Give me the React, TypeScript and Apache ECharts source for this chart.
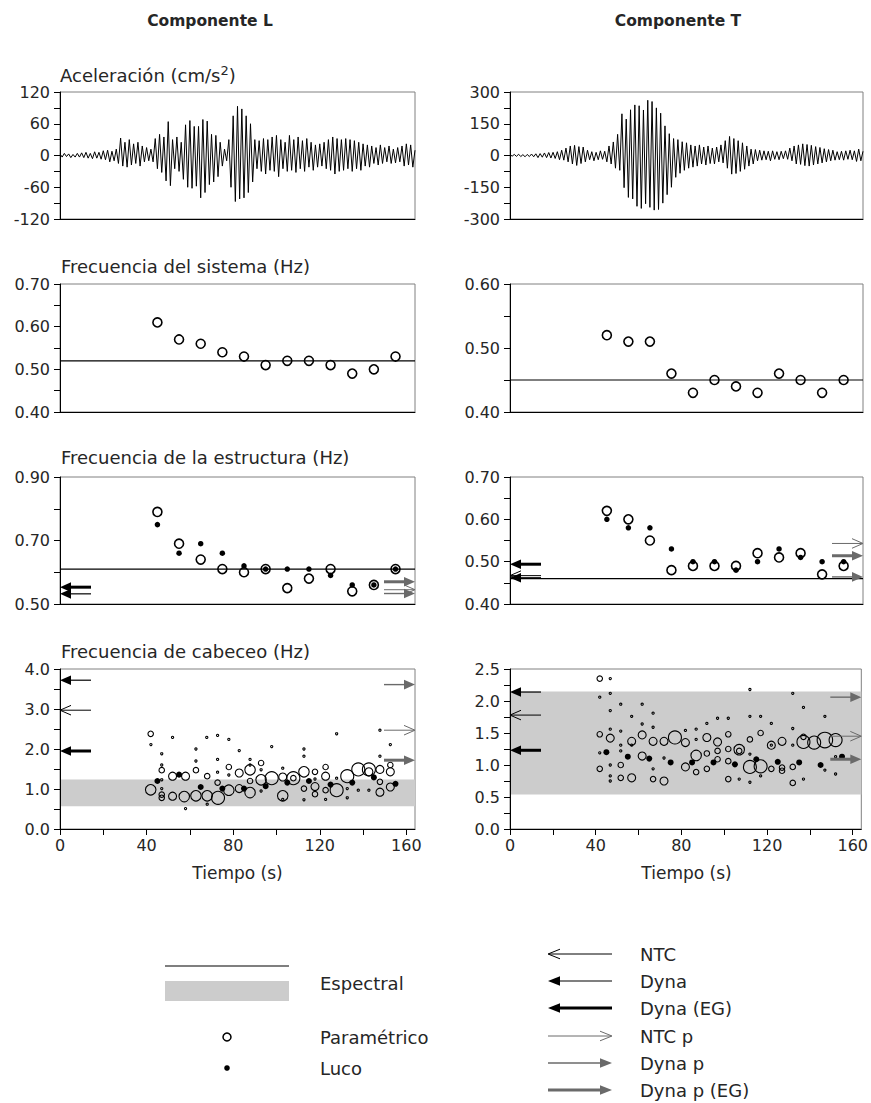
import { useEffect, useRef } from "react";
import * as echarts from "echarts";

// ---------- data ----------
const T_MAX = 164;
const ACC_DT = 1; // s between successive half-cycle extremes read from the record

const ACC_L = [
  3, -3, 4, -2, 3, -4, 2, -3, 4, -3,
  5, -4, 6, -5, 4, -6, 7, -5, 6, -7,
  9, -8, 10, -12, 8, -10, 12, -15,
  33, -20, 25, -22, 30, -18, 22, -15, 25, -20, 18, -12, 15, -10, 12,
  -12, 32, -25, 40, -32, 35, -48, 64, -57, 30, -25, 35, -30,
  25, -45, 58, -60, 66, -62, 55, -58, 55, -80, 68, -70, 65, -55, 40, -50, 38, -40, 25, -20, 12, -10,
  30, -60, 75, -87, 93, -82, 88, -80, 75, -70, 60, -50, 30, -25,
  28, -30, 32, -35, 30, -28, 35, -30, 38, -40, 30, -25,
  25, -30, 38, -28, 30, -32, 35, -25, 28, -30, 32, -22, 25, -28, 20, -22,
  22, -20, 25, -25, 30, -28, 35, -35, 32, -30, 30, -28, 32, -25,
  30, -30, 28, -25, 25, -28, 22, -20, 20, -22, 18, -15, 15, -18, 20, -15,
  15, -12, 18, -15, 12, -14, 15, -12, 18, -20, 22, -18, 20, -22, 10,
];

const ACC_T = [
  4, -3, 5, -4, 6, -5, 4, -6, 5, -5,
  7, -6, 8, -10, 9, -8, 12, -10, 14, -12,
  15, -14, 18, -20, 25,
  -22, 35, -30, 45, -40, 48, -47, 42, -38, 40, -30, 25,
  -20, 18, -25, 15, -20, 22, -18, 20,
  -30, 45, -40, 64, -60, 100, -70,
  197, -152, 172, -198, 216, -205, 239, -240, 235, -250, 215, -228, 261, -245, 255, -258, 225, -255, 200, -225, 140, -185, 103, -150, 80, -103,
  75, -84, 65, -70, 60, -60, 50, -55, 45, -50, 50, -40, 40, -45, 45, -38, 35, -40, 40, -30, 50, -35,
  70, -60, 90, -88, 80, -85, 70, -75, 60, -65, 45, -50, 30, -40,
  28, -25, 25, -22, 22, -20, 20, -25, 22, -18, 18, -20, 20, -15, 22, -18,
  35, -25, 45, -40, 50, -42, 55, -48, 52, -50, 48, -45, 42, -40, 38, -35, 32, -30, 28, -25,
  25, -22, 18, -20, 20, -22, 22, -18, 25, -20, 22, -28, 30, -25, 20,
];

const WINDOW_T = [45, 55, 65, 75, 85, 95, 105, 115, 125, 135, 145, 155];

const SYS_L_PARAM = [0.61, 0.57, 0.56, 0.54, 0.53, 0.51, 0.52, 0.52, 0.51, 0.49, 0.5, 0.53];
const SYS_L_SPEC = 0.52;
const SYS_T_PARAM = [0.52, 0.51, 0.51, 0.46, 0.43, 0.45, 0.44, 0.43, 0.46, 0.45, 0.43, 0.45];
const SYS_T_SPEC = 0.45;

const STR_L_PARAM = [0.79, 0.69, 0.64, 0.61, 0.6, 0.61, 0.55, 0.58, 0.61, 0.54, 0.56, 0.61];
const STR_L_LUCO = [0.75, 0.66, 0.69, 0.66, 0.62, 0.61, 0.61, 0.61, 0.59, 0.56, 0.56, 0.61];
const STR_L_SPEC = 0.61;
const STR_T_PARAM = [0.62, 0.6, 0.55, 0.48, 0.49, 0.49, 0.49, 0.52, 0.51, 0.52, 0.47, 0.49];
const STR_T_LUCO = [0.6, 0.58, 0.58, 0.53, 0.5, 0.5, 0.48, 0.5, 0.53, 0.51, 0.5, 0.5];
const STR_T_SPEC = 0.46;

// [frequency, kind]  kind: 0 NTC, 1 Dyna, 2 Dyna (EG), 3 NTC p, 4 Dyna p, 5 Dyna p (EG)
const STR_L_ARROWS_LEFT = [[0.553, 2], [0.532, 1]];
const STR_L_ARROWS_RIGHT = [[0.57, 5], [0.545, 3], [0.533, 4]];
const STR_T_ARROWS_LEFT = [[0.494, 2], [0.467, 0], [0.462, 1]];
const STR_T_ARROWS_RIGHT = [[0.543, 3], [0.514, 5], [0.464, 4]];
const PIT_L_ARROWS_LEFT = [[3.72, 1], [2.97, 0], [1.95, 2]];
const PIT_L_ARROWS_RIGHT = [[3.61, 4], [2.47, 3], [1.72, 5]];
const PIT_T_ARROWS_LEFT = [[2.14, 1], [1.78, 0], [1.23, 2]];
const PIT_T_ARROWS_RIGHT = [[2.06, 4], [1.45, 3], [1.09, 5]];

const PIT_L_BAND = [0.57, 1.24];
const PIT_T_BAND = [0.54, 2.15];

const PIT_L_LUCO = [1.2, 1.36, 1.05, 1.01, 1.01, 1.07, 1.16, 1.2, 1.11, 1.16, 1.29, 1.13];
const PIT_T_LUCO = [1.2, 1.13, 1.1, 1.04, 1.04, 1.04, 1.01, 1.09, 1.05, 1.04, 1.0, 1.13];

// [time, frequency, relative amplitude class 0..5]
const PIT_L_PARAM = [
  [41.9, 2.38, 1], [42, 2.11, 0], [41.9, 0.98, 3], [47, 1.88, 0], [47, 1.6, 0], [47, 1.47, 1], [47, 1.23, 0], [47, 1.01, 0], [47, 0.86, 1], [47, 0.78, 1],
  [52, 2.29, 0], [52, 1.32, 2], [58, 1.32, 2], [52, 0.82, 2], [57.4, 0.81, 3], [58, 0.51, 0],
  [62.8, 2.0, 0], [62.8, 1.7, 0], [62.8, 1.47, 1], [68, 1.32, 1], [62.8, 0.83, 3], [68, 0.83, 3], [68, 0.62, 0], [67.8, 2.29, 0],
  [72.8, 2.34, 0], [72.8, 1.74, 0], [72.8, 1.42, 0], [72.8, 1.16, 1], [73, 0.78, 4], [78, 2.24, 0], [78, 1.55, 1], [78, 0.97, 3], [78, 1.35, 0],
  [82.8, 1.96, 0], [82.8, 1.4, 2], [82.8, 1.01, 2], [87.8, 1.74, 0], [87.8, 1.6, 0], [87.8, 1.48, 3], [87.8, 1.2, 1], [87.8, 0.91, 3],
  [92.9, 1.65, 1], [92.9, 1.48, 0], [92.9, 1.23, 3], [97.8, 1.27, 4], [97.8, 2.06, 0], [92.9, 0.95, 0],
  [102.9, 1.52, 0], [102.9, 1.3, 2], [102.9, 0.83, 3], [102.9, 0.74, 0], [107.8, 1.27, 4], [107.8, 1.27, 1],
  [112.7, 2.0, 0], [112.7, 1.82, 0], [112.7, 1.43, 3], [112.7, 1.01, 1], [112.7, 0.73, 0], [117.8, 1.43, 1], [117.8, 1.06, 2], [117.8, 0.87, 1], [117.8, 1.25, 0],
  [122.7, 1.55, 1], [122.7, 1.32, 2], [122.7, 0.97, 1], [122.7, 0.74, 0], [127.8, 0.97, 4], [127.8, 2.38, 0], [127.8, 1.27, 0],
  [132.7, 1.32, 4], [132.7, 0.78, 0], [132.7, 1.01, 0], [137.8, 1.49, 4], [137.8, 0.97, 0],
  [142.7, 1.49, 4], [142.7, 1.43, 2], [142.7, 0.97, 0], [147.8, 1.49, 2], [147.8, 1.18, 1], [147.8, 0.92, 2], [147.8, 2.47, 0], [147.8, 1.82, 0],
  [152.6, 1.6, 1], [152.6, 1.43, 2], [152.6, 1.05, 2], [152.6, 2.11, 0],
];

const PIT_T_PARAM = [
  [41.9, 2.35, 1], [46.8, 2.35, 0], [41.9, 2.06, 0], [46.8, 2.12, 0], [46.8, 1.85, 0], [46.8, 1.56, 0], [41.9, 1.48, 1], [46.8, 1.42, 2], [41.9, 1.19, 0], [41.9, 0.94, 1], [46.8, 1.0, 0], [46.8, 0.83, 0], [46.8, 0.75, 0],
  [51.7, 1.95, 0], [51.7, 1.53, 0], [51.7, 1.31, 0], [51.7, 1.22, 0], [51.7, 1.0, 1], [51.7, 0.8, 1], [56.8, 1.76, 0], [56.8, 1.37, 2], [56.8, 1.31, 0], [56.8, 0.8, 2],
  [61.7, 1.95, 0], [61.7, 1.64, 0], [61.7, 1.47, 2], [61.7, 1.14, 2], [66.8, 1.81, 0], [66.8, 1.59, 0], [66.8, 1.37, 2], [66.8, 0.94, 0], [66.8, 0.78, 1],
  [71.9, 0.75, 2], [71.9, 1.37, 2], [71.9, 1.11, 0], [77, 1.43, 4],
  [81.9, 1.35, 2], [81.9, 1.54, 0], [81.9, 0.97, 2], [86.9, 1.15, 3], [86.9, 1.56, 0], [86.9, 1.4, 0], [86.9, 0.89, 1],
  [91.9, 1.65, 0], [91.9, 1.43, 2], [91.9, 1.18, 1], [91.9, 0.94, 1], [96.9, 1.36, 2], [96.9, 1.22, 1], [96.9, 1.09, 1], [96.9, 1.73, 0],
  [101.9, 1.48, 1], [101.9, 1.73, 0], [101.9, 1.25, 1], [101.9, 1.06, 1], [101.9, 0.78, 1], [107, 1.24, 3], [107, 1.22, 1], [107, 0.78, 0],
  [112, 2.18, 0], [112, 1.76, 0], [112, 1.4, 1], [112, 1.17, 0], [112, 0.97, 4], [112, 0.73, 0],
  [117, 1.76, 0], [117, 1.5, 1], [117, 0.98, 4], [117, 0.83, 0],
  [122, 1.65, 0], [122, 1.31, 2], [122, 1.31, 0], [122, 0.94, 1],
  [127, 1.37, 2], [127, 0.96, 1], [127, 0.91, 1],
  [132, 2.12, 0], [132, 1.57, 0], [132, 1.31, 0], [132, 0.97, 1], [132, 0.72, 1],
  [137, 1.9, 0], [137, 1.44, 1], [137, 1.36, 4], [137, 0.78, 0],
  [142, 1.35, 4], [147, 1.76, 0], [147, 1.39, 5], [147, 0.92, 0], [152, 1.39, 4], [152, 0.86, 0], [152, 1.13, 0],
];

// ticks / labels
const TIME_TICKS = [0, 20, 40, 60, 80, 100, 120, 140, 160];
const TIME_LABELS = [0, 40, 80, 120, 160];
const ACC_L_TICKS = [-120, -90, -60, -30, 0, 30, 60, 90, 120];
const ACC_L_LABELS = [-120, -60, 0, 60, 120];
const ACC_T_TICKS = [-300, -225, -150, -75, 0, 75, 150, 225, 300];
const ACC_T_LABELS = [-300, -150, 0, 150, 300];
const SYS_L_TICKS = [0.4, 0.45, 0.5, 0.55, 0.6, 0.65, 0.7];
const SYS_L_LABELS = [0.4, 0.5, 0.6, 0.7];
const SYS_T_TICKS = [0.4, 0.45, 0.5, 0.55, 0.6];
const SYS_T_LABELS = [0.4, 0.5, 0.6];
const STR_L_TICKS = [0.5, 0.6, 0.7, 0.8, 0.9];
const STR_L_LABELS = [0.5, 0.7, 0.9];
const STR_T_TICKS = [0.4, 0.45, 0.5, 0.55, 0.6, 0.65, 0.7];
const STR_T_LABELS = [0.4, 0.5, 0.6, 0.7];
const PIT_L_TICKS = [0, 0.5, 1, 1.5, 2, 2.5, 3, 3.5, 4];
const PIT_L_LABELS = [0, 1, 2, 3, 4];
const PIT_T_TICKS = [0, 0.25, 0.5, 0.75, 1, 1.25, 1.5, 1.75, 2, 2.25, 2.5];
const PIT_T_LABELS = [0, 0.5, 1, 1.5, 2, 2.5];

const LEGEND_ARROWS = ["NTC", "Dyna", "Dyna (EG)", "NTC p", "Dyna p", "Dyna p (EG)"];

// ---------- styling ----------
const FONT = '"DejaVu Sans", sans-serif';
const TXT = "#262626";
const GRAY_ARROW = "#6a6a6a";
const ARROW_STYLE = [
  { color: "#000", width: 1, open: true },
  { color: "#000", width: 1.2, open: false },
  { color: "#000", width: 3, open: false },
  { color: GRAY_ARROW, width: 1, open: true },
  { color: GRAY_ARROW, width: 1.4, open: false },
  { color: GRAY_ARROW, width: 3, open: false },
];
const BUBBLE = [2.2, 5.5, 8, 10.5, 13, 15.5];

function arrowEls(tipX: number, y: number, dir: number, kind: number, len: number, head = 11, hw = 4.8): any[] {
  const st = ARROW_STYLE[kind];
  const els: any[] = [];
  const tailX = tipX - dir * len;
  const endX = st.open ? tipX - dir * 1 : tipX - dir * head * 0.7;
  els.push({ type: "line", shape: { x1: tailX, y1: y, x2: endX, y2: y }, style: { stroke: st.color, lineWidth: st.width } });
  if (st.open) {
    els.push({
      type: "polyline",
      shape: { points: [[tipX - dir * head, y - hw], [tipX, y], [tipX - dir * head, y + hw]] },
      style: { stroke: st.color, lineWidth: 1, fill: "none" },
    });
  } else {
    els.push({
      type: "polygon",
      shape: { points: [[tipX, y], [tipX - dir * head, y - hw], [tipX - dir * head, y + hw]] },
      style: { fill: st.color },
    });
  }
  return els;
}

const GRIDS = [
  { left: 60, top: 92, width: 355, height: 127 },
  { left: 510, top: 92, width: 353, height: 127 },
  { left: 60, top: 284, width: 355, height: 128 },
  { left: 510, top: 284, width: 353, height: 128 },
  { left: 60, top: 477, width: 355, height: 127 },
  { left: 510, top: 477, width: 353, height: 127 },
  { left: 60, top: 669, width: 355, height: 160 },
  { left: 510, top: 669, width: 353, height: 160 },
];

function yAx(gi: number, min: number, max: number, ticks: number[], labels: number[], dec: number | null) {
  return {
    type: "value",
    gridIndex: gi,
    min,
    max,
    z: 5,
    axisLine: { show: true, onZero: false, lineStyle: { color: "#000", width: 1 } },
    axisTick: { show: true, inside: false, length: 6, customValues: ticks, lineStyle: { color: "#000", width: 1 } },
    axisLabel: {
      show: true,
      customValues: labels,
      margin: 10,
      color: TXT,
      fontFamily: FONT,
      fontSize: 16,
      formatter: (v: number) => (dec === null ? String(v) : Number(v).toFixed(dec)),
    },
    splitLine: { show: false },
  };
}

function xAx(gi: number, bottom: boolean) {
  return {
    type: "value",
    gridIndex: gi,
    min: 0,
    max: T_MAX,
    z: 5,
    axisLine: { show: true, onZero: false, lineStyle: { color: "#000", width: 1 } },
    axisTick: bottom
      ? { show: true, inside: false, length: 6, customValues: TIME_TICKS, lineStyle: { color: "#000", width: 1 } }
      : { show: false },
    axisLabel: bottom
      ? { show: true, customValues: TIME_LABELS, margin: 8, color: TXT, fontFamily: FONT, fontSize: 16 }
      : { show: false },
    splitLine: { show: false },
  };
}

function specLine(gi: number, v: number) {
  return {
    type: "line",
    xAxisIndex: gi,
    yAxisIndex: gi,
    data: [[0, v], [T_MAX, v]],
    symbol: "none",
    silent: true,
    z: 2,
    lineStyle: { color: "#000", width: 1.2 },
  };
}

function paramSeries(gi: number, vals: number[]) {
  return {
    type: "scatter",
    xAxisIndex: gi,
    yAxisIndex: gi,
    data: WINDOW_T.map((t, i) => [t, vals[i]]),
    symbol: "circle",
    symbolSize: 9,
    silent: true,
    z: 4,
    itemStyle: { color: "rgba(255,255,255,0)", borderColor: "#000", borderWidth: 1.6, opacity: 1 },
  };
}

function lucoSeries(gi: number, vals: number[], size = 5.5) {
  return {
    type: "scatter",
    xAxisIndex: gi,
    yAxisIndex: gi,
    data: WINDOW_T.map((t, i) => [t, vals[i]]),
    symbol: "circle",
    symbolSize: size,
    silent: true,
    z: 3,
    itemStyle: { color: "#000", opacity: 1 },
  };
}

function bubbleSeries(gi: number, pts: number[][]) {
  return {
    type: "scatter",
    xAxisIndex: gi,
    yAxisIndex: gi,
    data: pts,
    symbol: "circle",
    symbolSize: (v: number[]) => BUBBLE[v[2]],
    silent: true,
    z: 4,
    itemStyle: { color: "rgba(255,255,255,0)", borderColor: "#000", borderWidth: 1.1, opacity: 1 },
  };
}

function bandSeries(gi: number, band: number[]) {
  return {
    type: "line",
    xAxisIndex: gi,
    yAxisIndex: gi,
    data: [[0, band[0]]],
    symbol: "none",
    silent: true,
    z: 1,
    lineStyle: { opacity: 0 },
    markArea: {
      silent: true,
      itemStyle: { color: "#cccccc" },
      data: [[{ yAxis: band[0] }, { yAxis: band[1] }]],
    },
  };
}

function arrowSeries(gi: number, arrows: number[][], side: "L" | "R") {
  return {
    type: "custom",
    xAxisIndex: gi,
    yAxisIndex: gi,
    data: arrows,
    silent: true,
    z: 6,
    renderItem: (_p: any, api: any) => {
      const f = api.value(0);
      const kind = api.value(1);
      const pt = api.coord([side === "L" ? 0 : T_MAX, f]);
      return { type: "group", children: arrowEls(pt[0], pt[1], side === "L" ? -1 : 1, kind, 31) };
    },
  };
}

function txt(x: number, y: number, text: string, size = 16, align = "left", weight = "normal", extra: any = {}) {
  return {
    type: "text",
    x,
    y,
    silent: true,
    style: {
      text,
      fill: TXT,
      fontSize: size,
      fontFamily: FONT,
      fontWeight: weight,
      textAlign: align,
      align,
      textVerticalAlign: "middle",
      verticalAlign: "middle",
      ...extra,
    },
  };
}

function buildOption() {
  const graphic: any[] = [
    txt(210, 21, "Componente L", 15.5, "center", "bold"),
    txt(678, 21, "Componente T", 15.5, "center", "bold"),
    txt(60, 75, "Aceleración (cm/s{sup|2})", 18, "left", "normal", {
      rich: { sup: { fontSize: 13, fontFamily: FONT, fill: TXT, verticalAlign: "top", padding: [0, 0, 10, 0] } },
    }),
    txt(61, 266, "Frecuencia del sistema (Hz)", 18),
    txt(61, 457, "Frecuencia de la estructura (Hz)", 18),
    txt(61, 651, "Frecuencia de cabeceo (Hz)", 18),
    txt(237.5, 873, "Tiempo (s)", 17, "center"),
    txt(686.5, 873, "Tiempo (s)", 17, "center"),
    // left legend
    { type: "line", shape: { x1: 165, y1: 966, x2: 289, y2: 966 }, style: { stroke: "#000", lineWidth: 1.2 } },
    { type: "rect", shape: { x: 165, y: 981, width: 124, height: 20 }, style: { fill: "#cccccc" } },
    txt(320, 983, "Espectral", 18),
    { type: "circle", shape: { cx: 227, cy: 1037, r: 4 }, style: { fill: "#fff", stroke: "#000", lineWidth: 1.5 } },
    txt(320, 1037, "Paramétrico", 18),
    { type: "circle", shape: { cx: 227, cy: 1068, r: 2.8 }, style: { fill: "#000" } },
    txt(320, 1068, "Luco", 18),
  ];
  const legendY = [954, 981, 1008, 1036, 1063, 1090];
  LEGEND_ARROWS.forEach((name, k) => {
    const y = legendY[k];
    const left = k < 3;
    arrowEls(left ? 548 : 612, y, left ? -1 : 1, k, 64, 12, 4.8).forEach((e) => graphic.push(e));
    graphic.push(txt(640, y, name, 18));
  });

  const series: any[] = [
    {
      type: "line",
      xAxisIndex: 0,
      yAxisIndex: 0,
      data: ACC_L.map((v, i) => [i * ACC_DT, v]),
      symbol: "none",
      silent: true,
      lineStyle: { color: "#000", width: 1 },
    },
    {
      type: "line",
      xAxisIndex: 1,
      yAxisIndex: 1,
      data: ACC_T.map((v, i) => [i * ACC_DT, v]),
      symbol: "none",
      silent: true,
      lineStyle: { color: "#000", width: 1 },
    },
    specLine(2, SYS_L_SPEC),
    paramSeries(2, SYS_L_PARAM),
    specLine(3, SYS_T_SPEC),
    paramSeries(3, SYS_T_PARAM),
    specLine(4, STR_L_SPEC),
    lucoSeries(4, STR_L_LUCO),
    paramSeries(4, STR_L_PARAM),
    arrowSeries(4, STR_L_ARROWS_LEFT, "L"),
    arrowSeries(4, STR_L_ARROWS_RIGHT, "R"),
    specLine(5, STR_T_SPEC),
    lucoSeries(5, STR_T_LUCO),
    paramSeries(5, STR_T_PARAM),
    arrowSeries(5, STR_T_ARROWS_LEFT, "L"),
    arrowSeries(5, STR_T_ARROWS_RIGHT, "R"),
    bandSeries(6, PIT_L_BAND),
    bubbleSeries(6, PIT_L_PARAM),
    lucoSeries(6, PIT_L_LUCO, 6),
    arrowSeries(6, PIT_L_ARROWS_LEFT, "L"),
    arrowSeries(6, PIT_L_ARROWS_RIGHT, "R"),
    bandSeries(7, PIT_T_BAND),
    bubbleSeries(7, PIT_T_PARAM),
    lucoSeries(7, PIT_T_LUCO, 6),
    arrowSeries(7, PIT_T_ARROWS_LEFT, "L"),
    arrowSeries(7, PIT_T_ARROWS_RIGHT, "R"),
  ];

  return {
    animation: false,
    backgroundColor: "#ffffff",
    textStyle: { fontFamily: FONT },
    grid: GRIDS.map((g) => ({ ...g, show: true, borderColor: "#808080", borderWidth: 1, backgroundColor: "transparent", z: 0 })),
    xAxis: GRIDS.map((_, i) => xAx(i, i >= 6)),
    yAxis: [
      yAx(0, -120, 120, ACC_L_TICKS, ACC_L_LABELS, null),
      yAx(1, -300, 300, ACC_T_TICKS, ACC_T_LABELS, null),
      yAx(2, 0.4, 0.7, SYS_L_TICKS, SYS_L_LABELS, 2),
      yAx(3, 0.4, 0.6, SYS_T_TICKS, SYS_T_LABELS, 2),
      yAx(4, 0.5, 0.9, STR_L_TICKS, STR_L_LABELS, 2),
      yAx(5, 0.4, 0.7, STR_T_TICKS, STR_T_LABELS, 2),
      yAx(6, 0, 4, PIT_L_TICKS, PIT_L_LABELS, 1),
      yAx(7, 0, 2.5, PIT_T_TICKS, PIT_T_LABELS, 1),
    ],
    series,
    graphic,
  };
}

export default function App() {
  const ref = useRef<HTMLDivElement>(null);
  useEffect(() => {
    if (!ref.current) return;
    const chart = echarts.init(ref.current, null, { renderer: "svg" });
    chart.setOption(buildOption() as any);
    return () => chart.dispose();
  }, []);
  return (
    <div
      ref={ref}
      style={{ position: "absolute", left: 0, top: 0, width: 871, height: 1103, background: "#fff" }}
    />
  );
}
